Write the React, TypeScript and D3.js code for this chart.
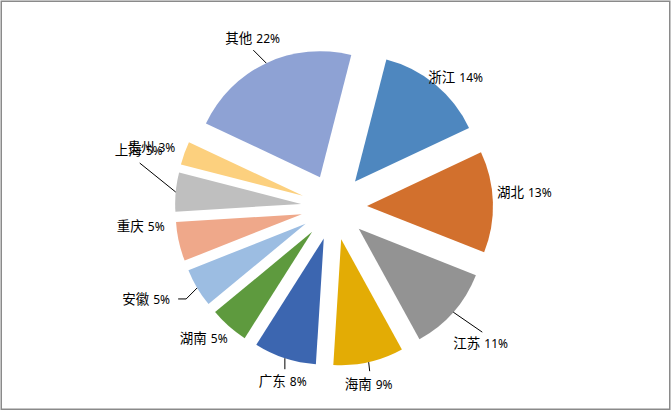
import React from "react";
import * as d3 from "d3";

const categories = ["浙江", "湖北", "江苏", "海南", "广东", "湖南", "安徽", "重庆", "上海", "贵州", "其他"];
const values = [14, 13, 11, 9, 8, 5, 5, 5, 5, 3, 22];
const colors = ["#4E87BF", "#D2702D", "#939393", "#E3AC05", "#3C66B0", "#5E9A3E", "#9CBDE2", "#EFA88A", "#BFBFBF", "#FCD07E", "#8EA2D4"];

// label layout (relative to the slice's outer point on its bisector): text start, baseline, leader path
const labelLayout: { dx: number; dy: number; leader?: [number, number][] }[] = [
  { dx: -7, dy: -2 },
  { dx: 4, dy: -5 },
  { dx: 0, dy: 36, leader: [[29, 20]] },
  { dx: -24, dy: 27, leader: [[1, 9]] },
  { dx: -26, dy: 28, leader: [[0, 11]] },
  { dx: -49, dy: 17 },
  { dx: -75, dy: 16, leader: [[-11, 11], [-19, 11]] },
  { dx: -62, dy: -11 },
  { dx: -61, dy: -37, leader: [[-36, -29]] },
  { dx: -57, dy: -1 },
  { dx: -41, dy: -20, leader: [[-13, -13]] },
];

const W = 672;
const H = 411;
const cx = 334;
const cy = 207;
const R = 126;
const explode = 33;
const startDeg = 14.4;

export default function App() {
  const start = (startDeg * Math.PI) / 180;
  const pie = d3
    .pie<number>()
    .sort(null)
    .value((d) => d)
    .startAngle(start)
    .endAngle(start + 2 * Math.PI);
  const arcs = pie(values);
  const arcGen = d3.arc<d3.PieArcDatum<number>>().innerRadius(0).outerRadius(R);

  return (
    <svg
      width={W}
      height={H}
      style={{ position: "fixed", left: 0, top: 0, background: "#fff" }}
      fontFamily="'Noto Sans CJK SC', 'Noto Sans', sans-serif"
    >
      <rect x={0} y={0} width={W} height={H} fill="#fff" />
      <rect x={1.25} y={1.25} width={668.5} height={408} fill="none" stroke="#8A8A8A" strokeWidth={1.5} />
      {arcs.map((a, i) => {
        const mid = (a.startAngle + a.endAngle) / 2;
        const ox = cx + explode * Math.sin(mid);
        const oy = cy - explode * Math.cos(mid);
        return <path key={i} d={arcGen(a) || ""} transform={`translate(${ox},${oy})`} fill={colors[i]} />;
      })}
      {arcs.map((a, i) => {
        const mid = (a.startAngle + a.endAngle) / 2;
        const px = cx + (explode + R) * Math.sin(mid);
        const py = cy - (explode + R) * Math.cos(mid);
        const lay = labelLayout[i];
        const pts: [number, number][] = lay.leader
          ? [[px, py], ...lay.leader.map(([lx, ly]) => [px + lx, py + ly] as [number, number])]
          : [];
        return (
          <g key={i}>
            {lay.leader && (
              <path d={d3.line()(pts) || ""} fill="none" stroke="#000" strokeWidth={1} />
            )}
            <text x={px + lay.dx} y={py + lay.dy} fill="#000">
              <tspan fontSize={13.5} fontFamily="'Noto Sans CJK SC', sans-serif">
                {categories[i]}
              </tspan>
              <tspan dx={4} fontSize={12} fontFamily="'Noto Sans', sans-serif">
                {values[i] + "%"}
              </tspan>
            </text>
          </g>
        );
      })}
    </svg>
  );
}
